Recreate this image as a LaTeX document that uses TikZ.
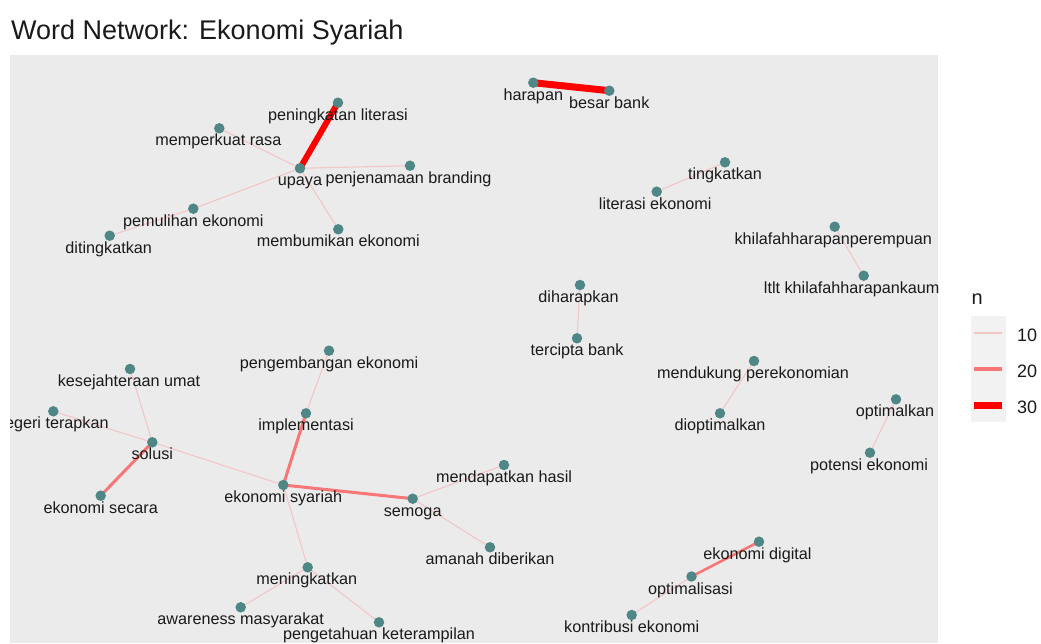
\documentclass[tikz,border=0pt]{standalone}
\usepackage{fontspec}
\setmainfont{Liberation Sans}
\usepackage{tikz}
\usetikzlibrary{positioning}
\definecolor{panelgray}{HTML}{EBEBEB}
\definecolor{keygray}{HTML}{F2F2F2}
\definecolor{dotteal}{HTML}{4F8787}
\definecolor{linklow}{HTML}{F3C6C6}
\definecolor{linkmid}{HTML}{F87676}
\definecolor{linkhigh}{HTML}{FF0000}
\definecolor{inkdark}{HTML}{1A1A1A}
\pgfdeclarelayer{panel}
\pgfdeclarelayer{links}
\pgfsetlayers{panel,links,main}

\begin{document}
\begin{tikzpicture}[
  x=1pt, y=-1pt,
  word/.style={circle, fill=dotteal, inner sep=0pt, minimum size=10.5pt},
  lab/.style={font=\fontsize{16.2}{18}\selectfont, anchor=base,
              inner sep=0pt, text=inkdark},
  leglab/.style={font=\fontsize{18}{20}\selectfont, anchor=west,
                 inner sep=0pt, text=inkdark},
  lowlink/.style={draw=linklow, line width=1.1pt},
  midlink/.style={draw=linkmid, line width=3pt},
  highlink/.style={draw=linkhigh, line width=6.5pt}]
\useasboundingbox (0,0) rectangle (1041,643);
\begin{pgfonlayer}{panel}
  \fill[panelgray] (10,54.5) rectangle (938,643);
  \fill[keygray] (971,316) rectangle (1006,422);
\end{pgfonlayer}

\node[anchor=base west, inner sep=0pt, text=inkdark,
      font=\fontsize{27}{30}\selectfont] (title) at (11,39.3)
  {Word Network: Ekonomi Syariah};

\node[word] (peningkatan) at (338,102.7) {};
\node[word] (memperkuat) at (219.3,128.3) {};
\node[word] (upaya) at (300,168.3) {};
\node[word] (penjenamaan) at (410,165.7) {};
\node[word] (pemulihan) at (193.3,208.7) {};
\node[word] (ditingkatkan) at (109.7,235.7) {};
\node[word] (membumikan) at (338.3,229.3) {};
\node[word] (harapan) at (533.3,82.7) {};
\node[word] (besarbank) at (609.3,90.7) {};
\node[word] (tingkatkan) at (725,162.3) {};
\node[word] (literasiek) at (656.7,191.7) {};
\node[word] (khilafahp) at (834.7,226.7) {};
\node[word] (khilafahk) at (863.7,275.7) {};
\node[word] (diharapkan) at (580,285) {};
\node[word] (tercipta) at (577,338.3) {};
\node[word] (mendukung) at (754,361) {};
\node[word] (dioptimalkan) at (720,413.3) {};
\node[word] (optimalkan) at (896,399.3) {};
\node[word] (potensi) at (870,452.7) {};
\node[word] (pengembangan) at (329,350.7) {};
\node[word] (kesejahteraan) at (130,369) {};
\node[word] (negeri) at (53.3,411.3) {};
\node[word] (implementasi) at (306,413.3) {};
\node[word] (solusi) at (152.3,442.3) {};
\node[word] (mendapatkan) at (504,465) {};
\node[word] (ekosecara) at (100.7,495.7) {};
\node[word] (ekosyariah) at (283.3,485) {};
\node[word] (semoga) at (412.7,498.7) {};
\node[word] (amanah) at (490,547.3) {};
\node[word] (ekodigital) at (759,541.7) {};
\node[word] (meningkatkan) at (307.7,567.3) {};
\node[word] (optimalisasi) at (691.5,576.5) {};
\node[word] (awareness) at (240.7,607.3) {};
\node[word] (pengetahuan) at (379,622.3) {};
\node[word] (kontribusi) at (631.7,615) {};

\begin{scope}
\clip (10,0) rectangle (1041,643);
\node[lab] (peningkatan-t) at ([yshift=-17.5pt]peningkatan) {peningkatan literasi};
\node[lab] (memperkuat-t) at ([xshift=-1pt,yshift=-17.5pt]memperkuat) {memperkuat rasa};
\node[lab] (upaya-t) at ([yshift=-17.5pt]upaya) {upaya};
\node[lab] (penjenamaan-t) at ([xshift=-1.5pt,yshift=-17.5pt]penjenamaan) {penjenamaan branding};
\node[lab] (pemulihan-t) at ([yshift=-17.5pt]pemulihan) {pemulihan ekonomi};
\node[lab] (ditingkatkan-t) at ([xshift=-1pt,yshift=-17.5pt]ditingkatkan) {ditingkatkan};
\node[lab] (membumikan-t) at ([yshift=-17.5pt]membumikan) {membumikan ekonomi};
\node[lab] (harapan-t) at ([yshift=-17.5pt]harapan) {harapan};
\node[lab] (besarbank-t) at ([yshift=-17.5pt]besarbank) {besar bank};
\node[lab] (tingkatkan-t) at ([yshift=-17.5pt]tingkatkan) {tingkatkan};
\node[lab] (literasiek-t) at ([xshift=-1.5pt,yshift=-17.5pt]literasiek) {literasi ekonomi};
\node[lab] (khilafahp-t) at ([xshift=-1.5pt,yshift=-17.5pt]khilafahp) {khilafahharapanperempuan};
\node[lab] (khilafahk-t) at ([xshift=-12pt,yshift=-17.5pt]khilafahk) {ltlt khilafahharapankaum};
\node[lab] (diharapkan-t) at ([xshift=-1.5pt,yshift=-17.5pt]diharapkan) {diharapkan};
\node[lab] (tercipta-t) at ([yshift=-17.5pt]tercipta) {tercipta bank};
\node[lab] (mendukung-t) at ([xshift=-1pt,yshift=-17.5pt]mendukung) {mendukung perekonomian};
\node[lab] (dioptimalkan-t) at ([yshift=-17.5pt]dioptimalkan) {dioptimalkan};
\node[lab] (optimalkan-t) at ([xshift=-1pt,yshift=-17.5pt]optimalkan) {optimalkan};
\node[lab] (potensi-t) at ([xshift=-1pt,yshift=-17.5pt]potensi) {potensi ekonomi};
\node[lab] (pengembangan-t) at ([yshift=-17.5pt]pengembangan) {pengembangan ekonomi};
\node[lab] (kesejahteraan-t) at ([xshift=-1pt,yshift=-17.5pt]kesejahteraan) {kesejahteraan umat};
\node[lab] (negeri-t) at ([xshift=-1pt,yshift=-17.5pt]negeri) {negeri terapkan};
\node[lab] (implementasi-t) at ([yshift=-17.5pt]implementasi) {implementasi};
\node[lab] (solusi-t) at ([yshift=-17.5pt]solusi) {solusi};
\node[lab] (mendapatkan-t) at ([yshift=-17.5pt]mendapatkan) {mendapatkan hasil};
\node[lab] (ekosecara-t) at ([yshift=-17.5pt]ekosecara) {ekonomi secara};
\node[lab] (ekosyariah-t) at ([yshift=-17.5pt]ekosyariah) {ekonomi syariah};
\node[lab] (semoga-t) at ([yshift=-17.5pt]semoga) {semoga};
\node[lab] (amanah-t) at ([yshift=-17.5pt]amanah) {amanah diberikan};
\node[lab] (ekodigital-t) at ([xshift=-1.5pt,yshift=-17.5pt]ekodigital) {ekonomi digital};
\node[lab] (meningkatkan-t) at ([xshift=-1pt,yshift=-17.5pt]meningkatkan) {meningkatkan};
\node[lab] (optimalisasi-t) at ([xshift=-1pt,yshift=-17.5pt]optimalisasi) {optimalisasi};
\node[lab] (awareness-t) at ([yshift=-17.5pt]awareness) {awareness masyarakat};
\node[lab] (pengetahuan-t) at ([yshift=-17.5pt]pengetahuan) {pengetahuan keterampilan};
\node[lab] (kontribusi-t) at ([yshift=-17.5pt]kontribusi) {kontribusi ekonomi};
\end{scope}

\begin{pgfonlayer}{links}
\draw[lowlink] (upaya.center) -- (memperkuat.center);
\draw[lowlink] (upaya.center) -- (penjenamaan.center);
\draw[lowlink] (upaya.center) -- (pemulihan.center);
\draw[lowlink] (pemulihan.center) -- (ditingkatkan.center);
\draw[lowlink] (upaya.center) -- (membumikan.center);
\draw[lowlink] (tingkatkan.center) -- (literasiek.center);
\draw[lowlink] (khilafahp.center) -- (khilafahk.center);
\draw[lowlink] (diharapkan.center) -- (tercipta.center);
\draw[lowlink] (mendukung.center) -- (dioptimalkan.center);
\draw[lowlink] (optimalkan.center) -- (potensi.center);
\draw[lowlink] (pengembangan.center) -- (implementasi.center);
\draw[lowlink] (kesejahteraan.center) -- (solusi.center);
\draw[lowlink] (negeri.center) -- (solusi.center);
\draw[lowlink] (solusi.center) -- (ekosyariah.center);
\draw[lowlink] (semoga.center) -- (mendapatkan.center);
\draw[lowlink] (semoga.center) -- (amanah.center);
\draw[lowlink] (ekosyariah.center) -- (meningkatkan.center);
\draw[lowlink] (meningkatkan.center) -- (awareness.center);
\draw[lowlink] (meningkatkan.center) -- (pengetahuan.center);
\draw[lowlink] (optimalisasi.center) -- (kontribusi.center);
\draw[midlink] (implementasi.center) -- (ekosyariah.center);
\draw[midlink] (ekosyariah.center) -- (semoga.center);
\draw[midlink] (solusi.center) -- (ekosecara.center);
\draw[midlink, line width=2.6pt] (ekodigital.center) -- (optimalisasi.center);
\draw[highlink, line width=6pt] (upaya.center) -- (peningkatan.center);
\draw[highlink, line width=7pt] (harapan.center) -- (besarbank.center);
\end{pgfonlayer}

\node[anchor=base west, inner sep=0pt, text=inkdark,
      font=\fontsize{20}{22}\selectfont] (legtitle) at (971.5,304.3) {n};
\coordinate (key10) at (974,333);
\coordinate (key20) at (974,369);
\coordinate (key30) at (974,405);
\draw[lowlink, line width=1.7pt] (key10) -- ++(28,0);
\draw[midlink, line width=4pt] (key20) -- ++(28,0);
\draw[highlink, line width=7pt] (key30) -- ++(28,0);
\node[leglab] (leg10) at (1017,335) {10};
\node[leglab] (leg20) at (1017,371) {20};
\node[leglab] (leg30) at (1017,407) {30};
\end{tikzpicture}
\end{document}
